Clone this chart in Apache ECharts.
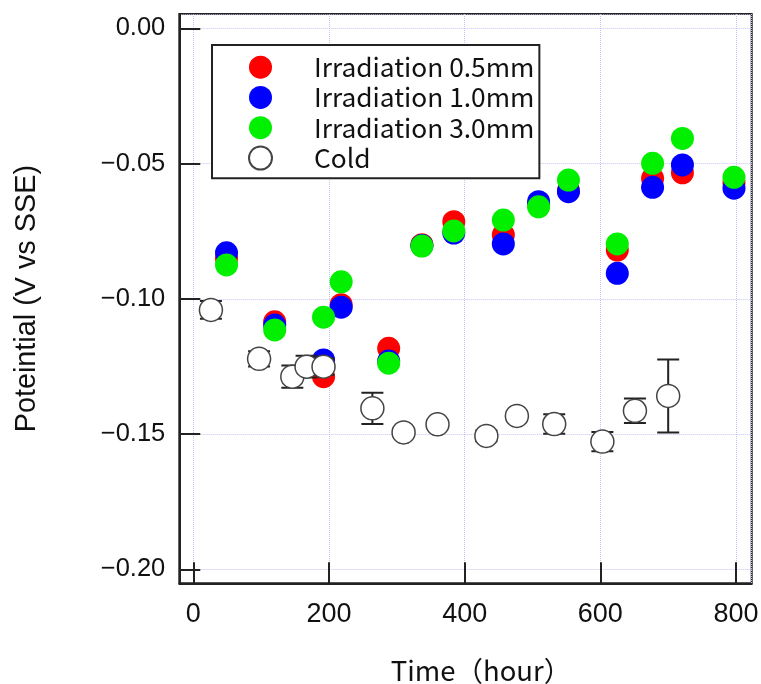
<!DOCTYPE html>
<html><head><meta charset="utf-8">
<script src="https://cdn.jsdelivr.net/npm/echarts@6/dist/echarts.min.js"></script>
<style>html,body{margin:0;padding:0;background:#fff}#c{width:761px;height:684px}</style>
</head><body><div id="c"></div>
<script>
// ---- data ----
const hoursIrr = [49, 120, 192, 218, 288, 337, 384, 457, 509, 553, 625, 677, 721, 797];
const irr05 = [-0.0850, -0.1085, -0.1288, -0.1022, -0.1183, -0.0800, -0.0715, -0.0764, -0.0650, -0.0600, -0.0820, -0.0555, -0.0534, -0.0570];
const irr10 = [-0.0830, -0.1097, -0.1226, -0.1031, -0.1230, -0.0803, -0.0757, -0.0797, -0.0641, -0.0604, -0.0906, -0.0588, -0.0505, -0.0591];
const irr30 = [-0.0875, -0.1115, -0.1068, -0.0937, -0.1238, -0.0805, -0.0749, -0.0709, -0.0660, -0.0561, -0.0797, -0.0499, -0.0407, -0.0551];
const hoursCold = [26, 97, 146, 167, 192, 264, 310, 360, 432, 477, 532, 603, 651, 700];
const cold = [-0.1041, -0.1222, -0.1288, -0.1251, -0.1251, -0.1405, -0.1494, -0.1464, -0.1507, -0.1433, -0.1463, -0.1528, -0.1414, -0.1359];
const coldErr = [0.0033, 0.0028, 0.0041, 0.0040, 0.0030, 0.0058, 0.0015, 0.0015, 0.0020, 0.0015, 0.0036, 0.0036, 0.0045, 0.0135];
const seriesNames = ['Irradiation 0.5mm', 'Irradiation 1.0mm', 'Irradiation 3.0mm', 'Cold'];
const xTicks = [0, 200, 400, 600, 800];
const yTicks = [0, -0.05, -0.10, -0.15, -0.20];

const pair = (xs, ys) => xs.map((x, i) => [x, ys[i]]);
const coldErrData = hoursCold.map((x, i) => [x, cold[i], coldErr[i]]);

const chart = echarts.init(document.getElementById('c'), null, {renderer: 'canvas'});
const gridCol = '#c4c4f4';
const option = {
  animation: false,
  backgroundColor: '#fff',
  grid: {left: 179.3, top: 14, right: 9.3, bottom: 100.7, containLabel: false, outerBoundsMode: 'none',
         show: true, borderColor: '#222', borderWidth: 2, backgroundColor: 'transparent'},
  legend: {
    data: seriesNames,
    orient: 'vertical',
    left: 212, top: 45,
    padding: [9, 5, 7, 36],
    itemWidth: 23, itemHeight: 23, itemGap: 4,
    borderColor: '#222', borderWidth: 2, backgroundColor: '#fff',
    selectedMode: false,
    textStyle: {fontFamily: 'Noto Sans CJK JP', fontSize: 26.3, lineHeight: 26, color: '#111', padding: [0, 0, 0, 37]}
  },
  xAxis: {
    type: 'value', min: -20.6, max: 823.1, splitNumber: 4,
    name: 'Time（hour）', nameLocation: 'middle', nameGap: 74,
    nameTextStyle: {fontFamily: 'Noto Sans CJK JP', fontSize: 27.5, lineHeight: 27, color: '#111', padding: [0, 0, 0, 31]},
    axisLine: {show: true, onZero: false, lineStyle: {color: '#222', width: 2}},
    axisTick: {show: true, inside: true, length: 21, lineStyle: {color: '#222', width: 2}},
    axisLabel: {
      margin: 18, fontFamily: 'Liberation Sans', fontSize: 27, lineHeight: 27, color: '#111',
      showMinLabel: false, showMaxLabel: false,
      formatter: v => { const t = xTicks.find(t => Math.abs(t - v) < 1e-6); return t === undefined ? '' : String(t); }
    },
    splitLine: {show: true, lineStyle: {color: gridCol, type: 'dotted', width: 1}}
  },
  yAxis: {
    type: 'value', min: -0.20518, max: 0.00529, splitNumber: 4,
    name: 'Poteintial (V vs SSE)', nameLocation: 'middle', nameGap: 138,
    nameTextStyle: {fontFamily: 'Liberation Sans', fontSize: 28.8, lineHeight: 29, color: '#111'},
    axisLine: {show: true, onZero: false, lineStyle: {color: '#222', width: 2}},
    axisTick: {show: true, inside: true, length: 21, lineStyle: {color: '#222', width: 2}},
    axisLabel: {
      margin: 14, fontFamily: 'Liberation Sans', fontSize: 25.5, color: '#111',
      showMinLabel: false, showMaxLabel: false,
      formatter: v => {
        const t = yTicks.find(t => Math.abs(t - v) < 1e-7);
        if (t === undefined) return '';
        return t === 0 ? '0.00' : '\u2212' + Math.abs(t).toFixed(2);
      }
    },
    splitLine: {show: true, lineStyle: {color: gridCol, type: 'dotted', width: 1}}
  },
  series: [
    {name: seriesNames[0], type: 'scatter', symbol: 'circle', symbolSize: 23, data: pair(hoursIrr, irr05), itemStyle: {color: '#ff0000', opacity: 1}, z: 3},
    {name: seriesNames[1], type: 'scatter', symbol: 'circle', symbolSize: 23, data: pair(hoursIrr, irr10), itemStyle: {color: '#0000ff', opacity: 1}, z: 4},
    {name: seriesNames[2], type: 'scatter', symbol: 'circle', symbolSize: 23, data: pair(hoursIrr, irr30), itemStyle: {color: '#00f000', opacity: 1}, z: 5},
    {
      name: 'errbar', type: 'custom', z: 6, clip: true, silent: true,
      data: coldErrData,
      renderItem: (params, api) => {
        const x = api.value(0), y = api.value(1), e = api.value(2);
        const top = api.coord([x, y + e]);
        const bot = api.coord([x, y - e]);
        const w = 11;
        const st = {stroke: '#222', lineWidth: 2};
        return {type: 'group', children: [
          {type: 'line', shape: {x1: top[0], y1: top[1], x2: bot[0], y2: bot[1]}, style: st},
          {type: 'line', shape: {x1: top[0] - w, y1: top[1], x2: top[0] + w, y2: top[1]}, style: st},
          {type: 'line', shape: {x1: bot[0] - w, y1: bot[1], x2: bot[0] + w, y2: bot[1]}, style: st}
        ]};
      }
    },
    {name: seriesNames[3], type: 'scatter', symbol: 'circle', symbolSize: 23, data: pair(hoursCold, cold), itemStyle: {color: '#ffffff', borderColor: '#444', borderWidth: 1.5, opacity: 1}, z: 7}
  ]
};
chart.setOption(option);
</script>
</body></html>
